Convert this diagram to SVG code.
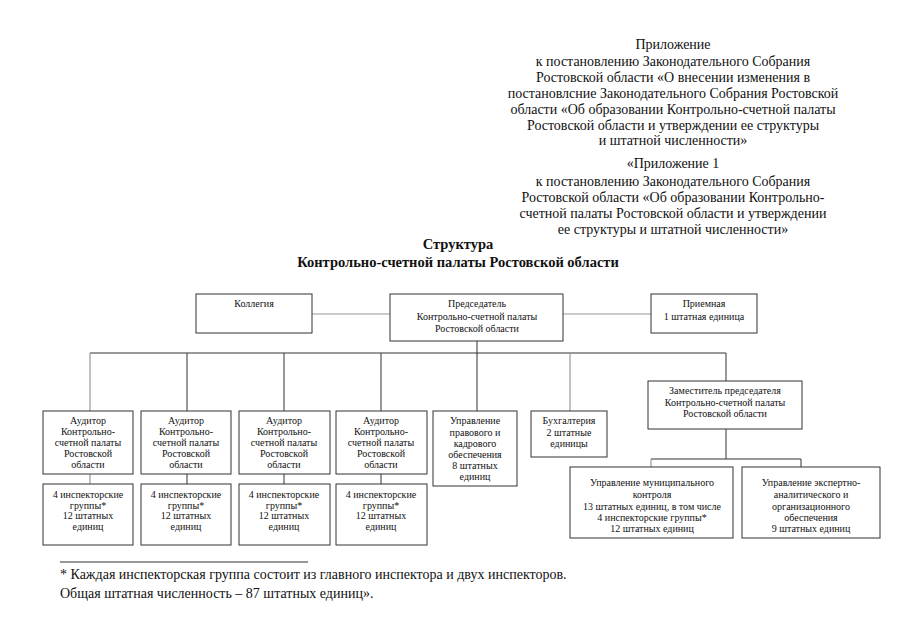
<svg xmlns="http://www.w3.org/2000/svg" width="905" height="640" viewBox="0 0 905 640">
<style>
text{font-family:'Liberation Serif','Times New Roman',Times,'Noto Serif','DejaVu Serif',serif;fill:#111}
.hd{font-size:14px;text-anchor:middle}
.tt{font-size:14.5px;font-weight:bold;text-anchor:middle}
.bx{font-size:10px;text-anchor:middle}
.ft{font-size:14px}
rect{fill:#fff;stroke:#333;stroke-width:1}
.c{stroke:#333;stroke-width:1;fill:none}
.g{stroke:#999;stroke-width:1.2;fill:none}
</style>
<rect x="0" y="0" width="905" height="640" style="fill:#fff;stroke:none"/>
<g font-family="Liberation Serif, serif">
<g id="header">
<text class="hd" x="673" y="49">Приложение</text>
<text class="hd" x="673" y="66">к постановлению Законодательного Собрания</text>
<text class="hd" x="673" y="82">Ростовской области «О внесении изменения в</text>
<text class="hd" x="673" y="98">постановлсние Законодательного Собрания Ростовской</text>
<text class="hd" x="673" y="114">области «Об образовании Контрольно-счетной палаты</text>
<text class="hd" x="673" y="130">Ростовской области и утверждении ее структуры</text>
<text class="hd" x="673" y="145">и штатной численности»</text>
<text class="hd" x="673" y="168">«Приложение 1</text>
<text class="hd" x="673" y="186">к постановлению Законодательного Собрания</text>
<text class="hd" x="673" y="202">Ростовской области «Об образовании Контрольно-</text>
<text class="hd" x="673" y="218">счетной палаты Ростовской области и утверждении</text>
<text class="hd" x="673" y="234">ее структуры и штатной численности»</text>
</g>
<g id="title">
<text class="tt" x="458" y="249">Структура</text>
<text class="tt" x="458" y="267">Контрольно-счетной палаты Ростовской области</text>
</g>
<g id="connectors">
<line class="g" x1="312" y1="314" x2="390" y2="314"/>
<line class="g" x1="563" y1="314" x2="651" y2="314"/>
<line class="c" x1="477" y1="341" x2="477" y2="411"/>
<line class="c" x1="90" y1="353" x2="726" y2="353"/>
<line class="g" x1="90" y1="353" x2="90" y2="411"/>
<line class="c" x1="187" y1="353" x2="187" y2="411"/>
<line class="c" x1="284" y1="353" x2="284" y2="411"/>
<line class="c" x1="381" y1="353" x2="381" y2="411"/>
<line class="g" x1="570" y1="353" x2="570" y2="411"/>
<line class="c" x1="726" y1="353" x2="726" y2="381"/>
<line class="g" x1="90" y1="474" x2="90" y2="484"/>
<line class="c" x1="187" y1="474" x2="187" y2="484"/>
<line class="c" x1="284" y1="474" x2="284" y2="484"/>
<line class="c" x1="381" y1="474" x2="381" y2="484"/>
<line class="c" x1="726" y1="429" x2="726" y2="459"/>
<line class="c" x1="651" y1="459" x2="801" y2="459"/>
<line class="g" x1="651" y1="459" x2="651" y2="467"/>
<line class="c" x1="801" y1="459" x2="801" y2="467"/>
</g>
<g id="kollegiya">
<rect x="196" y="294" width="116" height="39"/>
<text class="bx" x="254" y="307">Коллегия</text>
</g>
<g id="predsedatel">
<rect x="390" y="294" width="173" height="47"/>
<text class="bx" x="477" y="307">Председатель</text>
<text class="bx" x="477" y="320">Контрольно-счетной палаты</text>
<text class="bx" x="477" y="332">Ростовской области</text>
</g>
<g id="priemnaya">
<rect x="651" y="294" width="106" height="39"/>
<text class="bx" x="704" y="307">Приемная</text>
<text class="bx" x="704" y="320">1 штатная единица</text>
</g>
<g id="auditor1">
<rect x="43" y="411" width="90" height="63"/>
<text class="bx" x="88" y="424">Аудитор</text>
<text class="bx" x="88" y="435">Контрольно-</text>
<text class="bx" x="88" y="446">счетной палаты</text>
<text class="bx" x="88" y="457">Ростовской</text>
<text class="bx" x="88" y="468">области</text>
</g>
<g id="auditor2">
<rect x="141" y="411" width="90" height="63"/>
<text class="bx" x="186" y="424">Аудитор</text>
<text class="bx" x="186" y="435">Контрольно-</text>
<text class="bx" x="186" y="446">счетной палаты</text>
<text class="bx" x="186" y="457">Ростовской</text>
<text class="bx" x="186" y="468">области</text>
</g>
<g id="auditor3">
<rect x="239" y="411" width="91" height="63"/>
<text class="bx" x="284" y="424">Аудитор</text>
<text class="bx" x="284" y="435">Контрольно-</text>
<text class="bx" x="284" y="446">счетной палаты</text>
<text class="bx" x="284" y="457">Ростовской</text>
<text class="bx" x="284" y="468">области</text>
</g>
<g id="auditor4">
<rect x="336" y="411" width="91" height="63"/>
<text class="bx" x="381" y="424">Аудитор</text>
<text class="bx" x="381" y="435">Контрольно-</text>
<text class="bx" x="381" y="446">счетной палаты</text>
<text class="bx" x="381" y="457">Ростовской</text>
<text class="bx" x="381" y="468">области</text>
</g>
<g id="groups1">
<rect x="43" y="484" width="90" height="61"/>
<text class="bx" x="88" y="498">4 инспекторские</text>
<text class="bx" x="88" y="509">группы*</text>
<text class="bx" x="88" y="519">12 штатных</text>
<text class="bx" x="88" y="530">единиц</text>
</g>
<g id="groups2">
<rect x="141" y="484" width="90" height="61"/>
<text class="bx" x="186" y="498">4 инспекторские</text>
<text class="bx" x="186" y="509">группы*</text>
<text class="bx" x="186" y="519">12 штатных</text>
<text class="bx" x="186" y="530">единиц</text>
</g>
<g id="groups3">
<rect x="239" y="484" width="91" height="61"/>
<text class="bx" x="284" y="498">4 инспекторские</text>
<text class="bx" x="284" y="509">группы*</text>
<text class="bx" x="284" y="519">12 штатных</text>
<text class="bx" x="284" y="530">единиц</text>
</g>
<g id="groups4">
<rect x="336" y="484" width="91" height="61"/>
<text class="bx" x="381" y="498">4 инспекторские</text>
<text class="bx" x="381" y="509">группы*</text>
<text class="bx" x="381" y="519">12 штатных</text>
<text class="bx" x="381" y="530">единиц</text>
</g>
<g id="pravovoe">
<rect x="433" y="411" width="84" height="75"/>
<text class="bx" x="475" y="424">Управление</text>
<text class="bx" x="475" y="436">правового и</text>
<text class="bx" x="475" y="447">кадрового</text>
<text class="bx" x="475" y="458">обеспечения</text>
<text class="bx" x="475" y="469">8 штатных</text>
<text class="bx" x="475" y="480">единиц</text>
</g>
<g id="buhgalteriya">
<rect x="531" y="411" width="76" height="46"/>
<text class="bx" x="569" y="424">Бухгалтерия</text>
<text class="bx" x="569" y="436">2 штатные</text>
<text class="bx" x="569" y="447">единицы</text>
</g>
<g id="zamestitel">
<rect x="648" y="381" width="154" height="48"/>
<text class="bx" x="725" y="394">Заместитель председателя</text>
<text class="bx" x="725" y="406">Контрольно-счетной палаты</text>
<text class="bx" x="725" y="417">Ростовской области</text>
</g>
<g id="municipal">
<rect x="570" y="467" width="163" height="71"/>
<text class="bx" x="652" y="486">Управление муниципального</text>
<text class="bx" x="652" y="498">контроля</text>
<text class="bx" x="652" y="510">13 штатных единиц, в том числе</text>
<text class="bx" x="652" y="521">4 инспекторские группы*</text>
<text class="bx" x="652" y="532">12 штатных единиц</text>
</g>
<g id="ekspert">
<rect x="742" y="467" width="138" height="71"/>
<text class="bx" x="811" y="486">Управление экспертно-</text>
<text class="bx" x="811" y="498">аналитического и</text>
<text class="bx" x="811" y="510">организационного</text>
<text class="bx" x="811" y="521">обеспечения</text>
<text class="bx" x="811" y="532">9 штатных единиц</text>
</g>
<g id="footer">
<line x1="60" y1="562" x2="308" y2="562" style="stroke:#333;stroke-width:1"/>
<text class="ft" x="60" y="579">* Каждая инспекторская группа состоит из главного инспектора и двух инспекторов.</text>
<text class="ft" x="60" y="598">Общая штатная численность – 87 штатных единиц».</text>
</g>
</g>
</svg>
